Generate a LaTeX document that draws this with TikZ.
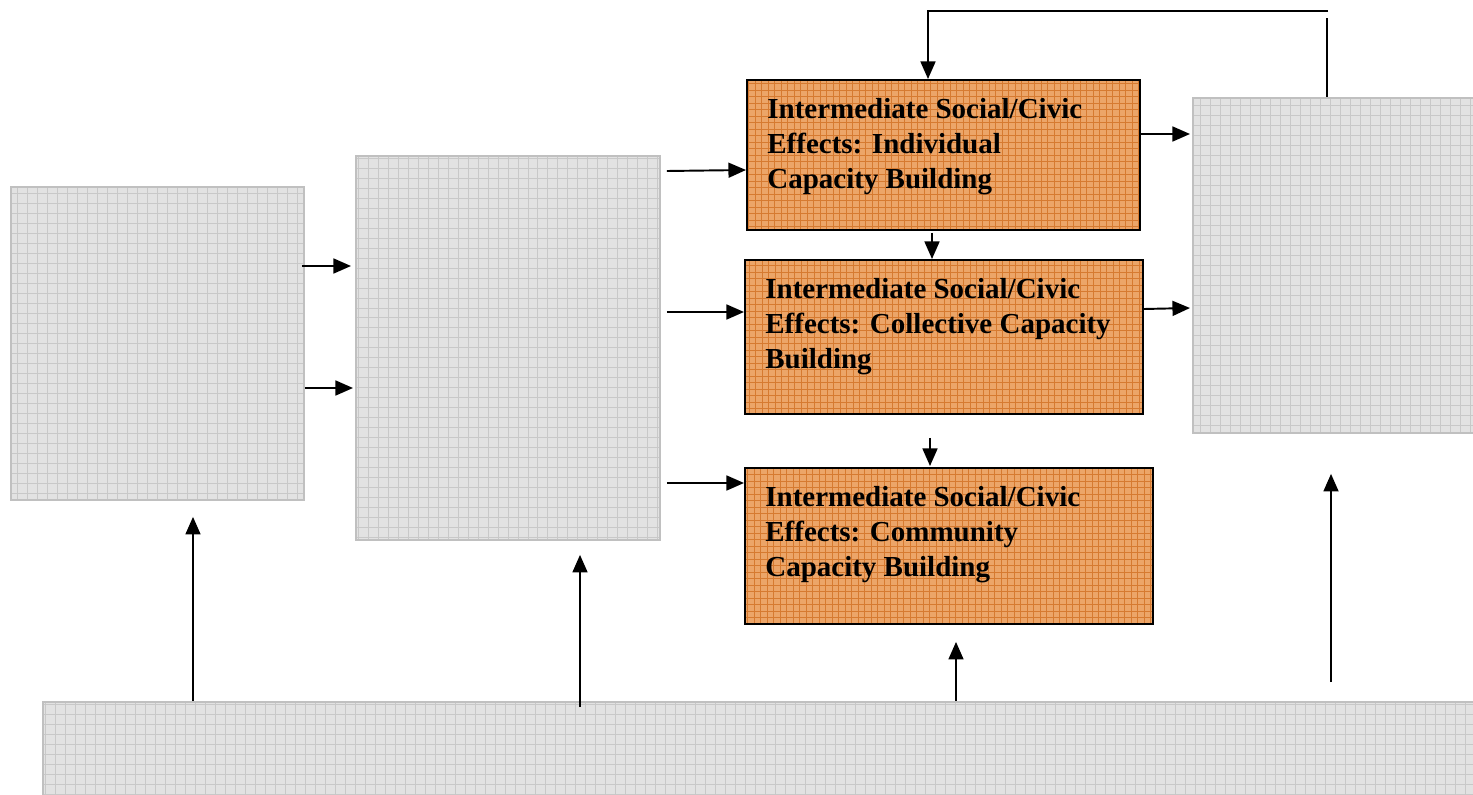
\documentclass[tikz,border=0pt]{standalone}
\usepackage{fontspec}
\setmainfont{Liberation Serif}
\usetikzlibrary{arrows.meta,calc}
\definecolor{grayfill}{RGB}{226,226,226}
\definecolor{graygrid}{RGB}{200,200,200}
\definecolor{grayedge}{RGB}{192,192,192}
\definecolor{orangefill}{RGB}{236,165,104}
\definecolor{orangegrid}{RGB}{214,122,48}
\tikzset{
  graybox/.style={draw=grayedge, line width=1.1pt, fill=grayfill, inner sep=0pt, anchor=north west,
    path picture={\draw[graygrid, line width=0.5pt] (path picture bounding box.south west) grid[step=0.2cm] (path picture bounding box.north east);}},
  orangebox/.style={draw=black, line width=1.1pt, fill=orangefill, inner sep=0pt, anchor=north west,
    path picture={\draw[orangegrid, line width=0.35pt] (path picture bounding box.south west) grid[step=0.13cm] (path picture bounding box.north east);}},
  boxtext/.style={anchor=north west, inner sep=0pt, align=left, font=\bfseries\fontsize{16.5}{19.9}\selectfont},
  arr/.style={line width=1.1pt, -{Triangle[length=10pt,width=8.5pt]}},
  ln/.style={line width=1.1pt},
}
\begin{document}
\begin{tikzpicture}[x=0.02cm,y=-0.02cm]
\useasboundingbox (0,0) rectangle (1473,794);
% boxes
\node[graybox, minimum width=5.86cm, minimum height=6.26cm] (A) at (10,186) {};
\node[graybox, minimum width=6.08cm, minimum height=7.68cm] (B) at (355,155) {};
\node[graybox, minimum width=5.9cm, minimum height=6.7cm] (R) at (1192,97) {};
\node[graybox, minimum width=28.9cm, minimum height=2.1cm] (Bot) at (42,701) {};
\node[orangebox, minimum width=7.86cm, minimum height=3.0cm] (O1) at (746,79) {};
\node[orangebox, minimum width=7.96cm, minimum height=3.08cm] (O2) at (744,259) {};
\node[orangebox, minimum width=8.16cm, minimum height=3.12cm] (O3) at (744,467) {};
% texts
\node[boxtext] (O1t) at (767,98) {Intermediate Social/Civic\\Effects: Individual\\Capacity Building};
\node[boxtext] (O2t) at (765,278) {Intermediate Social/Civic\\Effects: Collective Capacity\\Building};
\node[boxtext] (O3t) at (765,486) {Intermediate Social/Civic\\Effects: Community\\Capacity Building};
% A -> B
\draw[arr] ($(A.north east)+(-3,80)$) -- ($(B.north west)+(-4,111)$);
\draw[arr] ($(A.north east)+(0,202)$) -- ($(B.north west)+(-2,233)$);
% B -> orange
\draw[arr] ($(B.north east)+(6,16)$) -- ($(O1.north west)+(0,91)$);
\draw[arr] ($(B.north east)+(6,157)$) -- ($(O2.north west)+(0,53)$);
\draw[arr] ($(B.north east)+(6,328)$) -- ($(O3.north west)+(0,16)$);
% orange -> orange
\draw[arr] ($(O1.south west)+(186,2)$) -- ($(O2.north west)+(188,0)$);
\draw[arr] ($(O2.south west)+(186,23)$) -- ($(O3.north west)+(186,-1)$);
% orange -> R
\draw[arr] ($(O1.north east)+(0,55)$) -- ($(R.north west)+(-2,37)$);
\draw[arr] ($(O2.north east)+(0,50)$) -- ($(R.north west)+(-2,211)$);
% bottom arrows
\draw[arr] ($(Bot.north west)+(151,0)$) -- ($(A.south west)+(183,16)$);
\draw[arr] ($(Bot.north west)+(538,6)$) -- ($(B.south west)+(225,14)$);
\draw[arr] ($(Bot.north west)+(914,0)$) -- ($(O3.south west)+(212,17)$);
\draw[arr] ($(Bot.north west)+(1289,-19)$) -- ($(R.south west)+(139,40)$);
% feedback loop
\coordinate (fbA) at ($(R.north west)+(135,0)$);
\coordinate (fbB) at (1327,18);
\coordinate (fbC) at (1328,11);
\coordinate (fbD) at (928,11);
\draw[ln] (fbA) -- (fbB);
\draw[arr] (fbC) -- (fbD) -- (fbD |- O1.north);
\end{tikzpicture}
\end{document}
